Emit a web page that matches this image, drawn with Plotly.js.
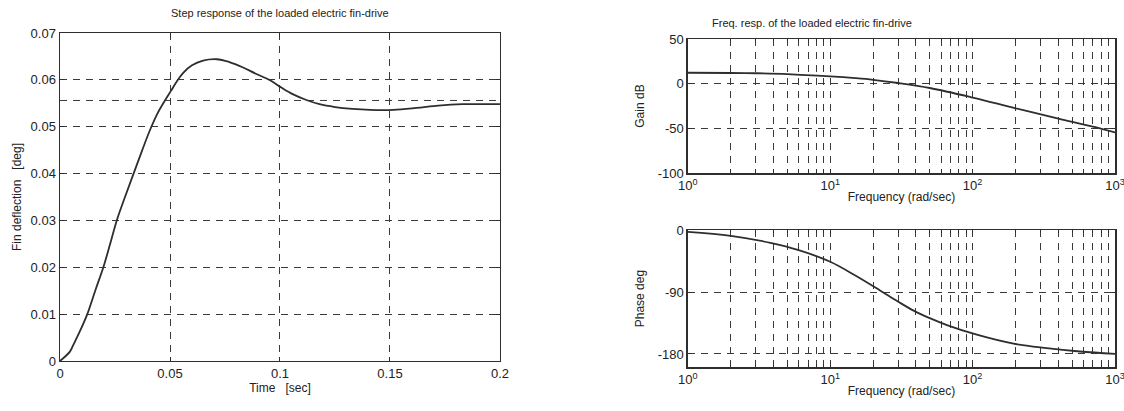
<!DOCTYPE html>
<html>
<head>
<meta charset="utf-8">
<script src="https://cdn.plot.ly/plotly-3.0.1.min.js"></script>
<style>html,body{margin:0;padding:0;background:#fff;}#chart{width:1124px;height:411px;}</style>
</head>
<body>
<div id="chart"></div>
<script>
// Step response (time in sec, fin deflection in deg)
var stepTime = [0, 0.0045, 0.006, 0.009, 0.0124, 0.016, 0.0197, 0.0228, 0.0258, 0.0297, 0.0336, 0.0373, 0.041, 0.0445, 0.0477, 0.0505, 0.053, 0.056, 0.060, 0.065, 0.0712, 0.077, 0.083, 0.089, 0.0955, 0.1008, 0.106, 0.112, 0.118, 0.125, 0.133, 0.141, 0.1515, 0.162, 0.172, 0.183, 0.200];
var stepDefl = [0, 0.0020, 0.0034, 0.0063, 0.0100, 0.0150, 0.0200, 0.0250, 0.0300, 0.0352, 0.0402, 0.0449, 0.0494, 0.0530, 0.0556, 0.0577, 0.0596, 0.0615, 0.0631, 0.0641, 0.0644, 0.0638, 0.0627, 0.0613, 0.0599, 0.0583, 0.0569, 0.0557, 0.0548, 0.0542, 0.0538, 0.0536, 0.0536, 0.0540, 0.0545, 0.0548, 0.0548];
// Dashed reference level on the step response
var refTime = [0, 0.2];
var refLevel = [0.0556, 0.0556];

// Bode data (frequency in rad/sec)
var gainFreq = [1, 2, 3, 5, 10, 15, 20, 30, 50, 100, 200, 400, 700, 1000];
var gainDB = [12.3, 12.0, 11.7, 10.8, 8.2, 6.2, 4.4, 0.8, -4.8, -15.5, -27.5, -39.0, -48.0, -54.5];
var phaseFreq = [1, 2, 3.8, 6, 10, 15, 22.5, 30, 38.5, 50, 66, 107, 194, 331, 567, 1000];
var phaseDeg = [-2.5, -8.2, -18.4, -29, -46, -66, -88, -104, -117, -128, -138, -152, -165, -171.5, -176.4, -180];

// Tick labels
var stepXTicks = [0, 0.05, 0.1, 0.15, 0.2];
var stepXLabels = ['0', '0.05', '0.1', '0.15', '0.2'];
var stepYTicks = [0, 0.01, 0.02, 0.03, 0.04, 0.05, 0.06, 0.07];
var stepYLabels = ['0', '0.01', '0.02', '0.03', '0.04', '0.05', '0.06', '0.07'];
var decades = [1, 10, 100, 1000];
var decadeLabels = ['10<sup>0</sup>', '10<sup>1</sup>', '10<sup>2</sup>', '10<sup>3</sup>'];
var gainTicks = [50, 0, -50, -100];
var gainLabels = ['50', '0', '-50', '-100'];
var phaseTicks = [0, -90, -180];
var phaseLabels = ['0', '-90', '-180'];

// minor log grid positions: 2..9 per decade
var minorVals = [];
for (var d = 0; d < 3; d++) {
  for (var m = 2; m <= 9; m++) minorVals.push(m * Math.pow(10, d));
}

var ink = '#2e2e2e';
var gridCol = '#3a3a3a';
var dash = '7px,6px';
var font = {family: 'Liberation Sans, Arial, sans-serif', size: 13, color: '#222'};

function linAxis(extra) {
  var a = {
    showline: true, mirror: 'ticks', linecolor: ink, linewidth: 1.5,
    ticks: 'inside', ticklen: 4, tickcolor: ink,
    showgrid: true, gridcolor: gridCol, griddash: dash, gridwidth: 1,
    zeroline: false, tickfont: {size: 13, color: '#222'}, fixedrange: true
  };
  for (var k in extra) a[k] = extra[k];
  return a;
}
function logAxis(extra) {
  var a = linAxis({type: 'log', range: [0, 3], tickmode: 'array', tickvals: decades, ticktext: decadeLabels,
    ticklen: 4, ticklabeloverflow: 'allow',
    minor: {tickmode: 'array', tickvals: minorVals, ticks: 'inside', ticklen: 3, tickcolor: ink,
            showgrid: true, gridcolor: gridCol, griddash: dash, gridwidth: 1}});
  for (var k in extra) a[k] = extra[k];
  return a;
}

var traces = [
  {x: refTime, y: refLevel, type: 'scatter', mode: 'lines', line: {color: gridCol, width: 1, dash: dash}, xaxis: 'x', yaxis: 'y', hoverinfo: 'skip'},
  {x: stepTime, y: stepDefl, type: 'scatter', mode: 'lines', line: {color: ink, width: 1.8, shape: 'spline', smoothing: 1}, xaxis: 'x', yaxis: 'y', hoverinfo: 'skip'},
  {x: gainFreq, y: gainDB, type: 'scatter', mode: 'lines', line: {color: ink, width: 1.8, shape: 'spline', smoothing: 1}, xaxis: 'x2', yaxis: 'y2', hoverinfo: 'skip'},
  {x: phaseFreq, y: phaseDeg, type: 'scatter', mode: 'lines', line: {color: ink, width: 1.8, shape: 'spline', smoothing: 1}, xaxis: 'x3', yaxis: 'y3', hoverinfo: 'skip'}
];

var layout = {
  width: 1124, height: 411,
  margin: {l: 0, r: 0, t: 0, b: 0},
  paper_bgcolor: '#ffffff', plot_bgcolor: '#ffffff',
  showlegend: false,
  font: font,
  xaxis: linAxis({domain: [0.0534, 0.4448], anchor: 'y', range: [0, 0.2], tickvals: stepXTicks, ticktext: stepXLabels,
    title: {text: 'Time   [sec]', font: {size: 12}, standoff: 2}}),
  yaxis: linAxis({domain: [0.1217, 0.9197], anchor: 'x', range: [0, 0.07], tickvals: stepYTicks, ticktext: stepYLabels,
    title: {text: 'Fin deflection   [deg]', font: {size: 12}, standoff: 6}}),
  xaxis2: logAxis({domain: [0.612, 0.992], anchor: 'y2',
    title: {text: 'Frequency (rad/sec)', font: {size: 12}, standoff: 0}}),
  yaxis2: linAxis({domain: [0.579, 0.905], anchor: 'x2', range: [-100, 50], tickvals: gainTicks, ticktext: gainLabels,
    title: {text: 'Gain dB', font: {size: 12}, standoff: 10}}),
  xaxis3: logAxis({domain: [0.612, 0.992], anchor: 'y3',
    title: {text: 'Frequency (rad/sec)', font: {size: 12}, standoff: 0}}),
  yaxis3: linAxis({domain: [0.107, 0.440], anchor: 'x3', range: [-199, 0], tickvals: phaseTicks, ticktext: phaseLabels,
    title: {text: 'Phase deg', font: {size: 12}, standoff: 10}}),
  annotations: [
    {text: 'Step response of the loaded electric fin-drive', xref: 'paper', yref: 'paper', x: 0.249, y: 1 - 13/411, xanchor: 'center', yanchor: 'middle', showarrow: false, font: {size: 11, color: '#222'}},
    {text: 'Freq. resp. of the loaded electric fin-drive', xref: 'paper', yref: 'paper', x: 710/1124, y: 1 - 23/411, xanchor: 'left', yanchor: 'middle', showarrow: false, font: {size: 11, color: '#222'}}
  ]
};

Plotly.newPlot('chart', traces, layout, {staticPlot: true, displayModeBar: false});
</script>
</body>
</html>
